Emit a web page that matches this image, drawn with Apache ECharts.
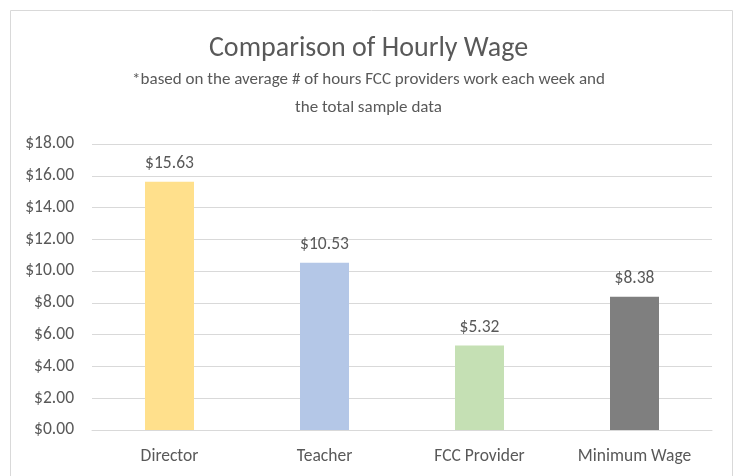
<!DOCTYPE html>
<html><head><meta charset="utf-8">
<script src="https://cdn.jsdelivr.net/npm/echarts@6/dist/echarts.min.js"></script>
<style>html,body{margin:0;padding:0;background:#fff}#c{width:737px;height:476px}</style>
</head><body><div id="c"></div>
<script>
const categories = ['Director', 'Teacher', 'FCC Provider', 'Minimum Wage'];
const wages = [15.63, 10.53, 5.32, 8.38];
const barColors = ['#FFE08C', '#B4C7E7', '#C5E0B4', '#7F7F7F'];
const titleText = 'Comparison of Hourly Wage';
const subtitleText = '*based on the average # of hours FCC providers work each week and\nthe total sample data';
const FONT = 'Carlito, "Liberation Sans Narrow", "Open Sans", sans-serif';

const chart = echarts.init(document.getElementById('c'));
chart.setOption({
  animation: false,
  graphic: [{type:'rect', shape:{x:10.5,y:10.5,width:722,height:480}, style:{fill:'none', stroke:'#D9D9D9', lineWidth:1}}],
  title: {
    text: titleText, subtext: subtitleText, left: 'center', top: 30, itemGap: 3,
    textStyle: {fontFamily: FONT, fontSize: 28, fontWeight: 'normal', color: '#595959'},
    subtextStyle: {fontFamily: FONT, fontSize: 17, color: '#595959', lineHeight: 28}
  },
  grid: {left: 92, right: 25, top: 144, bottom: 46, containLabel: false},
  xAxis: {
    type: 'category', data: categories,
    axisLine: {lineStyle: {color: '#D9D9D9'}}, axisTick: {show: false},
    axisLabel: {fontFamily: FONT, fontSize: 17.5, color: '#595959', margin: 18}
  },
  yAxis: {
    type: 'value', min: 0, max: 18, interval: 2,
    axisLine: {show: false}, axisTick: {show: false},
    splitLine: {lineStyle: {color: '#D9D9D9'}},
    axisLabel: {fontFamily: FONT, fontSize: 17.5, color: '#595959', margin: 18,
      formatter: v => '$' + v.toFixed(2)}
  },
  series: [{
    type: 'bar', barWidth: 49,
    data: wages.map((v, i) => ({value: v, itemStyle: {color: barColors[i]}})),
    label: {show: true, position: 'top', distance: 9, fontFamily: FONT, fontSize: 17.5, color: '#595959',
      formatter: p => '$' + p.value.toFixed(2)}
  }]
});
</script></body></html>
